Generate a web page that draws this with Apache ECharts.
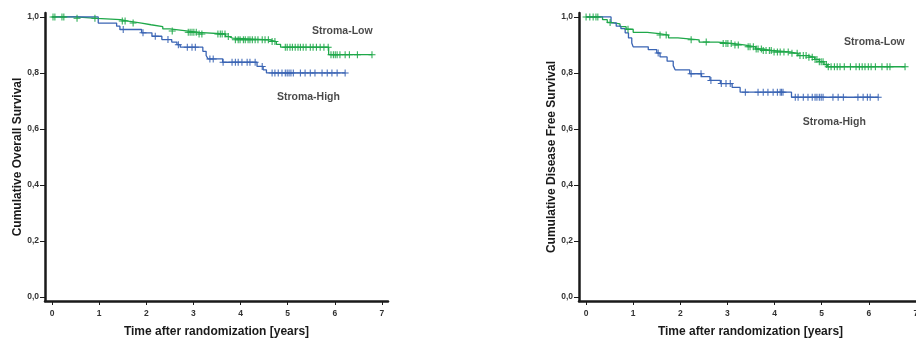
<!DOCTYPE html>
<html>
<head>
<meta charset="utf-8">
<script src="https://cdn.jsdelivr.net/npm/echarts@6/dist/echarts.min.js"></script>
<style>
html,body{margin:0;padding:0;background:#fff;}
#c{width:916px;height:340px;}
</style>
</head>
<body>
<div id="c"></div>
<script>
// ---- tick labels ----
const yearTicks = [0, 1, 2, 3, 4, 5, 6, 7];
const survTicks = [0, 0.2, 0.4, 0.6, 0.8, 1.0];

// ---- Overall survival: Stroma-Low ----
const osLowT = [0, 0.5, 0.95, 1.45, 1.62, 1.9, 2.1, 2.35, 2.5, 2.85, 3.1, 3.68, 3.75, 3.83, 4.62, 4.76, 4.85, 5.87, 6.79];
const osLowS = [1.0, 0.995, 0.99, 0.985, 0.978, 0.972, 0.965, 0.957, 0.95, 0.945, 0.939, 0.93, 0.924, 0.918, 0.912, 0.902, 0.892, 0.865, 0.865];
const osLowCens = [0.02, 0.06, 0.21, 0.25, 0.53, 0.91, 1.49, 1.55, 1.72, 2.55, 2.89, 2.93, 2.97, 3.01, 3.06, 3.12, 3.18, 3.52, 3.57, 3.61, 3.67, 3.74, 3.89, 3.95, 3.99, 4.06, 4.10, 4.16, 4.20, 4.25, 4.31, 4.37, 4.46, 4.52, 4.59, 4.67, 4.73, 4.95, 4.99, 5.05, 5.10, 5.16, 5.22, 5.27, 5.33, 5.39, 5.48, 5.54, 5.61, 5.69, 5.77, 5.86, 5.92, 5.97, 6.01, 6.05, 6.11, 6.22, 6.31, 6.48, 6.79];

// ---- Overall survival: Stroma-High ----
const osHighT = [0, 0.98, 1.37, 1.44, 1.9, 2.12, 2.33, 2.54, 2.65, 2.72, 3.2, 3.27, 3.31, 3.62, 4.35, 4.48, 4.55, 6.22];
const osHighS = [1.0, 0.978, 0.967, 0.955, 0.943, 0.931, 0.919, 0.91, 0.901, 0.892, 0.877, 0.862, 0.85, 0.838, 0.823, 0.811, 0.8, 0.8];
const osHighCens = [1.51, 1.93, 2.19, 2.46, 2.68, 2.87, 2.97, 3.04, 3.35, 3.42, 3.63, 3.82, 3.89, 3.95, 4.03, 4.14, 4.20, 4.31, 4.46, 4.67, 4.73, 4.80, 4.88, 4.95, 4.99, 5.03, 5.07, 5.12, 5.27, 5.37, 5.48, 5.58, 5.73, 5.84, 5.94, 6.05, 6.22];

// ---- Disease free survival: Stroma-Low ----
const dfsLowT = [0, 0.35, 0.45, 0.55, 0.72, 0.85, 1.0, 1.3, 1.55, 1.75, 1.95, 2.4, 2.8, 3.1, 3.35, 3.6, 3.75, 3.95, 4.3, 4.5, 4.7, 4.85, 4.95, 5.05, 5.12, 6.77];
const dfsLowS = [1.0, 0.99, 0.98, 0.975, 0.965, 0.956, 0.945, 0.94, 0.935, 0.925, 0.918, 0.91, 0.905, 0.9, 0.893, 0.885, 0.88, 0.875, 0.87, 0.862, 0.856, 0.848, 0.84, 0.83, 0.822, 0.822];
const dfsLowCens = [0.0, 0.08, 0.15, 0.21, 0.25, 0.51, 0.89, 1.57, 1.70, 2.23, 2.55, 2.91, 2.97, 3.01, 3.08, 3.16, 3.23, 3.44, 3.48, 3.55, 3.61, 3.65, 3.72, 3.76, 3.82, 3.89, 3.93, 3.99, 4.06, 4.12, 4.20, 4.29, 4.37, 4.48, 4.54, 4.61, 4.67, 4.73, 4.80, 4.86, 4.90, 4.95, 4.99, 5.03, 5.10, 5.14, 5.20, 5.27, 5.33, 5.39, 5.48, 5.61, 5.73, 5.80, 5.86, 5.92, 5.99, 6.05, 6.14, 6.28, 6.39, 6.45, 6.77];

// ---- Disease free survival: Stroma-High ----
const dfsHighT = [0, 0.53, 0.64, 0.74, 0.83, 0.9, 0.97, 1.0, 1.32, 1.5, 1.57, 1.72, 1.85, 1.89, 2.2, 2.45, 2.63, 2.85, 3.1, 3.27, 4.36, 6.2];
const dfsHighS = [1.0, 0.979, 0.967, 0.958, 0.943, 0.925, 0.907, 0.893, 0.883, 0.871, 0.857, 0.842, 0.826, 0.811, 0.797, 0.787, 0.773, 0.762, 0.748, 0.731, 0.713, 0.713];
const dfsHighCens = [1.53, 2.23, 2.44, 2.65, 2.87, 2.97, 3.06, 3.38, 3.65, 3.76, 3.86, 3.97, 4.06, 4.12, 4.15, 4.18, 4.44, 4.50, 4.61, 4.71, 4.80, 4.86, 4.90, 4.95, 4.99, 5.03, 5.24, 5.35, 5.46, 5.77, 5.88, 5.97, 6.03, 6.20];

const GREEN = '#1fa84a';
const BLUE = '#3a64b4';
const CROSS = 'path://M3,0H4V3H7V4H4V7H3V4H0V3H3Z';

function stepPairs(ts, ss) { return ts.map((t, i) => [t, ss[i]]); }
function survAt(ts, ss, t) {
  let v = ss[0];
  for (let i = 0; i < ts.length; i++) { if (ts[i] <= t) v = ss[i]; }
  return v;
}
function censPairs(ts, ss, cens) { return cens.map(t => [t, survAt(ts, ss, t)]); }

const fmtY = v => v.toFixed(1).replace('.', ',');
const FONT = 'Liberation Sans, Arial, sans-serif';

function xAxisCfg(gridIndex) {
  return {
    type: 'value', gridIndex, min: -0.15, max: 7.13,
    name: 'Time after randomization [years]', nameLocation: 'middle', nameGap: 25,
    nameTextStyle: { fontFamily: FONT, fontWeight: 'bold', fontSize: 12, color: '#1a1a1a' },
    axisLine: { show: true, onZero: false, lineStyle: { color: '#1a1a1a', width: 2.5 } },
    axisTick: { show: true, length: 4, customValues: yearTicks, lineStyle: { color: '#1a1a1a', width: 1 } },
    axisLabel: { customValues: yearTicks, margin: 8, fontFamily: FONT, fontWeight: 'bold', fontSize: 8.5, color: '#333' },
    splitLine: { show: false }
  };
}
function yAxisCfg(gridIndex, name) {
  return {
    type: 'value', gridIndex, min: -0.015, max: 1.014,
    name, nameLocation: 'middle', nameGap: 21,
    nameTextStyle: { fontFamily: FONT, fontWeight: 'bold', fontSize: 12, color: '#1a1a1a' },
    axisLine: { show: true, onZero: false, lineStyle: { color: '#1a1a1a', width: 2.5 } },
    axisTick: { show: true, length: 5, customValues: survTicks, lineStyle: { color: '#1a1a1a', width: 1 } },
    axisLabel: { customValues: survTicks, margin: 6, formatter: fmtY, fontFamily: FONT, fontWeight: 'bold', fontSize: 8.5, color: '#333' },
    splitLine: { show: false }
  };
}
function kmLine(idx, ts, ss, color) {
  return { type: 'line', xAxisIndex: idx, yAxisIndex: idx, step: 'end', symbol: 'none',
    data: stepPairs(ts, ss), lineStyle: { color, width: 1.3 }, silent: true, z: 2 };
}
function censSeries(idx, ts, ss, cens, color) {
  return { type: 'scatter', xAxisIndex: idx, yAxisIndex: idx, symbol: CROSS, symbolSize: 7,
    data: censPairs(ts, ss, cens), itemStyle: { color, opacity: 1 }, silent: true, z: 3 };
}
function labelSeries(idx, pos, text) {
  return { type: 'scatter', xAxisIndex: idx, yAxisIndex: idx, symbolSize: 0, data: [pos], silent: true,
    label: { show: true, position: 'inside', formatter: text, fontFamily: FONT, fontWeight: 'bold', fontSize: 10.5, color: '#1a1a1a' } };
}

const chart = echarts.init(document.getElementById('c'), null, { renderer: 'canvas' });
chart.setOption({
  animation: false,
  backgroundColor: '#fff',
  grid: [
    { left: 45, top: 13, width: 343, height: 288, containLabel: false, outerBoundsMode: 'none' },
    { left: 579, top: 13, width: 343, height: 288, containLabel: false, outerBoundsMode: 'none' }
  ],
  xAxis: [xAxisCfg(0), xAxisCfg(1)],
  yAxis: [yAxisCfg(0, 'Cumulative Overall Survival'), yAxisCfg(1, 'Cumulative Disease Free Survival')],
  series: [
    kmLine(0, osLowT, osLowS, GREEN),
    kmLine(0, osHighT, osHighS, BLUE),
    censSeries(0, osLowT, osLowS, osLowCens, GREEN),
    censSeries(0, osHighT, osHighS, osHighCens, BLUE),
    kmLine(1, dfsLowT, dfsLowS, GREEN),
    kmLine(1, dfsHighT, dfsHighS, BLUE),
    censSeries(1, dfsLowT, dfsLowS, dfsLowCens, GREEN),
    censSeries(1, dfsHighT, dfsHighS, dfsHighCens, BLUE),
    labelSeries(0, [6.16, 0.95], 'Stroma-Low'),
    labelSeries(0, [5.44, 0.714], 'Stroma-High'),
    labelSeries(1, [6.12, 0.911], 'Stroma-Low'),
    labelSeries(1, [5.27, 0.625], 'Stroma-High')
  ]
});
</script>
</body>
</html>
